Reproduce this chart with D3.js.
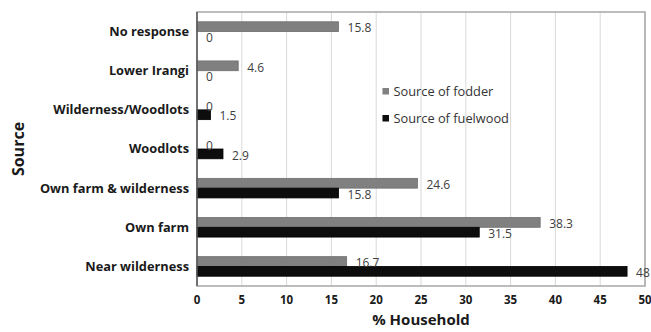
<!DOCTYPE html>
<html lang="en">
<head>
    <meta charset="UTF-8">
    <title>Source of fodder and fuelwood</title>
    <script src="https://d3js.org/d3.v7.min.js"></script>
    <style>
        body { margin: 0; background: #fff; }
        svg { font-family: "Open Sans", sans-serif; }
        .cat-label { font-size: 12.8px; font-weight: bold; fill: #1a1a1a; }
        .tick-label { font-size: 11.5px; font-weight: bold; fill: #1a1a1a; }
        .value-label { font-size: 12px; fill: #404040; }
        .legend-text { font-size: 12.8px; fill: #333; }
        .axis-title { font-weight: bold; fill: #1a1a1a; }
    </style>
</head>
<body>
<svg width="651" height="332"></svg>
<script>
    // Data
    const categories = ["No response", "Lower Irangi", "Wilderness/Woodlots", "Woodlots",
        "Own farm & wilderness", "Own farm", "Near wilderness"];
    const fodder = [15.8, 4.6, 0, 0, 24.6, 38.3, 16.7];
    const fuelwood = [0, 0, 1.5, 2.9, 15.8, 31.5, 48];
    const seriesNames = ["Source of fodder", "Source of fuelwood"];
    const xTicks = [0, 5, 10, 15, 20, 25, 30, 35, 40, 45, 50];

    const colors = ["#808080", "#0d0d0d"];

    const margin = { top: 12, right: 6, bottom: 46, left: 197 };
    const width = 651 - margin.left - margin.right;
    const height = 332 - margin.top - margin.bottom;

    const svg = d3.select("svg")
        .append("g")
        .attr("transform", `translate(${margin.left},${margin.top})`);

    const x = d3.scaleLinear().domain([0, 50]).range([0, width]);

    const y = d3.scaleBand()
        .domain(categories)
        .range([0, height])
        .paddingInner(0.5)
        .paddingOuter(0.25);

    const ySub = d3.scaleBand()
        .domain(seriesNames)
        .range([0, y.bandwidth()]);

    // gridlines
    svg.append("g")
        .selectAll("line")
        .data(xTicks.slice(1))
        .join("line")
        .attr("x1", d => x(d)).attr("x2", d => x(d))
        .attr("y1", 0).attr("y2", height)
        .attr("stroke", "#d9d9d9")
        .attr("stroke-width", 1);

    // plot border
    svg.append("rect")
        .attr("x", 0).attr("y", 0)
        .attr("width", width).attr("height", height)
        .attr("fill", "none")
        .attr("stroke", "#a6a6a6")
        .attr("stroke-width", 1.5);

    const rows = categories.map((c, i) => ({ cat: c, values: [fodder[i], fuelwood[i]] }));

    const groups = svg.selectAll(".row")
        .data(rows)
        .join("g")
        .attr("class", "row")
        .attr("transform", d => `translate(0,${y(d.cat)})`);

    groups.selectAll("rect")
        .data(d => d.values.map((v, k) => ({ v, k })))
        .join("rect")
        .attr("x", 0)
        .attr("y", d => ySub(seriesNames[d.k]))
        .attr("width", d => x(d.v))
        .attr("height", ySub.bandwidth())
        .attr("fill", d => colors[d.k])
        .attr("stroke", d => d.v > 0 ? (d.k === 0 ? "#6e6e6e" : "#000") : "none")
        .attr("stroke-width", 0.8);

    groups.selectAll(".value-label")
        .data(d => d.values.map((v, k) => ({ v, k })))
        .join("text")
        .attr("class", "value-label")
        .attr("x", d => x(d.v) + 9)
        .attr("y", d => ySub(seriesNames[d.k]) + ySub.bandwidth() / 2 + 1.5)
        .attr("dy", "0.35em")
        .text(d => d.v);

    // left axis line
    svg.append("line")
        .attr("x1", 0).attr("x2", 0)
        .attr("y1", 0).attr("y2", height)
        .attr("stroke", "#595959")
        .attr("stroke-width", 1.5);

    // category labels
    svg.selectAll(".cat-label")
        .data(categories)
        .join("text")
        .attr("class", "cat-label")
        .attr("x", -8)
        .attr("y", d => y(d) + y.bandwidth() / 2)
        .attr("dy", "0.35em")
        .attr("text-anchor", "end")
        .text(d => d);

    // x tick labels
    svg.selectAll(".tick-label")
        .data(xTicks)
        .join("text")
        .attr("class", "tick-label")
        .attr("x", d => x(d))
        .attr("y", height + 14)
        .attr("dy", "0.35em")
        .attr("text-anchor", "middle")
        .text(d => d);

    // axis titles
    svg.append("text")
        .attr("class", "axis-title")
        .attr("x", width / 2)
        .attr("y", height + 39)
        .attr("text-anchor", "middle")
        .attr("font-size", 15)
        .text("% Household");

    svg.append("text")
        .attr("class", "axis-title")
        .attr("transform", `translate(${-margin.left + 24},${height / 2}) rotate(-90)`)
        .attr("text-anchor", "middle")
        .attr("font-size", 16)
        .text("Source");

    // legend
    const legend = svg.append("g")
        .attr("transform", `translate(${x(20.7)},${76})`);

    legend.selectAll("g")
        .data(seriesNames)
        .join("g")
        .attr("transform", (d, i) => `translate(0,${i * 27})`)
        .each(function (d, i) {
            const g = d3.select(this);
            g.append("rect")
                .attr("x", 0).attr("y", 0)
                .attr("width", 6.5).attr("height", 6.5)
                .attr("fill", colors[i]);
            g.append("text")
                .attr("class", "legend-text")
                .attr("x", 11)
                .attr("y", 3.5)
                .attr("dy", "0.35em")
                .text(d);
        });
</script>
</body>
</html>
